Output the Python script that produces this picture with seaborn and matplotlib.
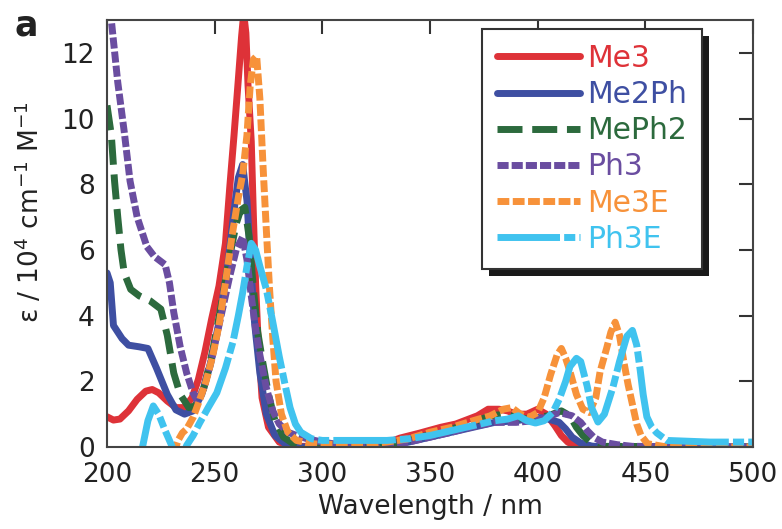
import matplotlib
matplotlib.use("Agg")
import matplotlib.pyplot as plt
import matplotlib.patches as mpatches
import seaborn as sns
import numpy as np

# ---------------- data ----------------
series_names = ["Me3", "Me2Ph", "MePh2", "Ph3", "Me3E", "Ph3E"]

me3_x = [200, 203, 206, 210, 214, 218, 221, 224, 228, 232, 236, 239.5, 242.4, 245.5, 248.6,
         252, 255, 257, 259, 261, 262.5, 263.5, 264.5, 265.5, 267, 268, 269, 270, 272, 275,
         280, 285, 290, 300, 320, 330, 336, 345, 355, 362, 368, 372, 377, 382, 386, 390,
         395, 400, 404, 408, 411, 414, 418, 430, 500]
me3_y = [0.92, 0.82, 0.85, 1.1, 1.45, 1.7, 1.75, 1.65, 1.4, 1.2, 1.2, 1.5, 2.05, 2.9, 3.9,
         4.9, 6.2, 7.9, 9.5, 11.2, 12.5, 13.2, 12.6, 11.0, 9.3, 7.0, 5.0, 3.5, 1.5, 0.6,
         0.15, 0.03, 0.02, 0.02, 0.03, 0.12, 0.27, 0.42, 0.6, 0.7, 0.85, 0.95, 1.15, 1.15, 1.1, 1.0,
         1.0, 1.15, 1.0, 0.65, 0.35, 0.15, 0.02, 0.0, 0.0]

me2ph_x = [200, 201.5, 203, 205, 207, 210, 215, 219, 223, 228, 232, 236, 240, 244, 248, 252,
           256, 259, 261, 263, 265, 266.5, 268.5, 271, 274, 278, 283, 290, 320, 330, 340, 350,
           360, 370, 380, 390, 395, 400, 405, 410, 413, 416, 420, 425, 430, 500]
me2ph_y = [5.3, 5.0, 3.7, 3.5, 3.3, 3.1, 3.05, 3.0, 2.4, 1.6, 1.13, 1.0, 1.1, 1.6, 2.5, 3.8,
           5.5, 7.2, 8.2, 8.6, 7.5, 5.8, 3.8, 2.25, 1.0, 0.35, 0.08, 0.0, 0.0, 0.05, 0.15, 0.3,
           0.45, 0.6, 0.75, 0.8, 0.85, 0.9, 0.85, 0.75, 0.55, 0.3, 0.12, 0.03, 0.0, 0.0]

meph2_x = [200, 202, 203.5, 205, 206.5, 208, 211, 215, 220, 225, 228, 231, 234, 238, 241, 245,
           249, 253, 257, 260, 262, 264, 266, 268, 270, 272, 275, 278, 282, 287, 295, 310,
           320, 330, 340, 350, 360, 370, 378, 385, 390, 395, 400, 405, 411, 415, 418, 421,
           425, 430, 500]
meph2_y = [10.4, 9.5, 8.1, 7.0, 6.0, 5.3, 4.8, 4.6, 4.45, 4.2, 3.4, 2.25, 1.6, 1.2, 1.25, 1.8,
           2.9, 4.3, 5.8, 6.8, 7.2, 7.3, 6.4, 4.8, 3.5, 2.7, 1.6, 0.8, 0.3, 0.08, 0.02, 0.0,
           0.02, 0.08, 0.2, 0.38, 0.55, 0.75, 0.95, 1.0, 0.9, 0.85, 0.9, 0.95, 1.1, 0.95, 0.6, 0.35,
           0.12, 0.02, 0.0]

ph3_x = [200, 202, 205, 208, 210.7, 214, 218.5, 222, 227, 229, 231, 234, 237, 240, 242, 245,
         249, 253, 257, 260, 263, 265, 267, 269, 271, 274, 277, 280, 284, 288, 293, 300,
         310, 320, 330, 340, 350, 360, 370, 380, 390, 398, 404, 410, 416, 420, 423, 426,
         430, 437, 444, 500]
ph3_y = [13.3, 13.0, 11.1, 9.6, 8.1, 7.0, 6.1, 5.8, 5.55, 5.0, 4.1, 3.05, 2.25, 1.64, 1.4, 1.8,
         2.8, 4.0, 5.2, 6.0, 6.4, 5.7, 4.6, 3.6, 2.8, 1.8, 1.1, 0.7, 0.45, 0.35, 0.25, 0.15,
         0.05, 0.02, 0.05, 0.15, 0.3, 0.45, 0.62, 0.75, 0.75, 0.8, 0.9, 1.05, 0.95, 0.75, 0.5, 0.3,
         0.15, 0.07, 0.02, 0.0]

me3e_x = [231, 233, 235, 237, 240, 243, 246, 249, 252, 255, 258, 261, 263, 265, 266.5, 268,
          269.5, 271, 272.5, 274, 275.5, 277, 278.5, 281, 284, 288, 295, 300, 320, 330, 340,
          350, 360, 370, 378, 384, 388, 392, 396, 400, 403, 406, 409, 411, 413, 415, 418,
          421, 424, 427, 429, 432, 434, 436, 438, 440, 442, 444, 446, 448, 451, 460, 500]
me3e_y = [-0.2, 0.2, 0.43, 0.55, 0.9, 1.43, 2.0, 2.75, 3.7, 5.0, 6.4, 7.6, 8.3, 9.5, 11.0, 11.8,
          11.9, 10.6, 8.5, 6.6, 4.8, 3.3, 2.0, 1.0, 0.45, 0.2, 0.1, 0.08, 0.08, 0.15, 0.25,
          0.45, 0.6, 0.8, 0.95, 1.15, 1.2, 1.0, 0.9, 1.05, 1.5, 2.2, 2.8, 3.0, 2.7, 2.3, 1.6,
          1.15, 1.05, 1.5, 2.3, 3.0, 3.5, 3.8, 3.4, 2.6, 1.9, 1.3, 0.7, 0.35, 0.1, 0.0, 0.0]

ph3e_x = [214, 216.5, 219, 221.5, 224, 227, 230, 232, 235, 237, 240, 243, 247, 251, 255, 258.5,
          261, 263, 265, 267, 269, 271, 274, 277, 280, 283, 285, 287.5, 290, 295, 300, 330,
          340, 350, 360, 370, 380, 386, 391, 395, 399, 403, 407, 410, 413, 415, 418, 420,
          423, 425, 428, 431, 435, 438, 441.4, 444, 446, 447.6, 449, 450.7, 453, 455.3, 460,
          480, 500]
ph3e_y = [-0.3, 0.0, 0.8, 1.25, 1.0, 0.5, 0.05, -0.3, -0.3, 0.05, 0.35, 0.73, 1.2, 1.65, 2.4, 3.2,
          4.0, 4.7, 5.5, 6.2, 6.0, 5.5, 4.8, 3.8, 2.75, 1.8, 1.2, 0.7, 0.45, 0.25, 0.2, 0.2,
          0.25, 0.35, 0.5, 0.65, 0.8, 0.85, 0.95, 0.8, 0.73, 0.8, 1.05, 1.45, 2.0, 2.45, 2.7, 2.6,
          1.85, 1.2, 0.76, 1.0, 1.83, 2.6, 3.37, 3.55, 3.1, 2.35, 1.6, 0.92, 0.6, 0.43, 0.2,
          0.15, 0.15]

x_ticks = [200, 250, 300, 350, 400, 450, 500]
y_ticks = [0, 2, 4, 6, 8, 10, 12]
x_label = "Wavelength / nm"
y_label = r"ε / 10$^{4}$ cm$^{-1}$ M$^{-1}$"
panel_label = "a"

# ---------------- styles ----------------
colors = {"Me3": "#DE3238", "Me2Ph": "#3E4FA2", "MePh2": "#2C6A3D",
          "Ph3": "#6A4DA0", "Me3E": "#F7923A", "Ph3E": "#40C3EF"}
styles = {"Me3": "-", "Me2Ph": "-", "MePh2": (0, (18, 7)),
          "Ph3": (0, (8, 2.2)), "Me3E": (0, (8.5, 2.5)),
          "Ph3E": (0, (45, 3, 8, 3))}

sns.set_style("white")
plt.rcParams["font.family"] = ["DejaVu Sans"]
plt.rcParams["lines.scale_dashes"] = False
plt.rcParams["mathtext.fontset"] = "dejavusans"

fig = plt.figure(figsize=(7.82, 5.29), dpi=100)
ax = fig.add_axes([107 / 782, 1 - 447 / 529, (753 - 107) / 782, (447 - 20) / 529])

data = {"Me3": (me3_x, me3_y), "Me2Ph": (me2ph_x, me2ph_y), "MePh2": (meph2_x, meph2_y),
        "Ph3": (ph3_x, ph3_y), "Me3E": (me3e_x, me3e_y), "Ph3E": (ph3e_x, ph3e_y)}

for name in series_names:
    xs, ys = data[name]
    sns.lineplot(x=xs, y=ys, ax=ax, color=colors[name], linewidth=5,
                 linestyle=styles[name], label=name, estimator=None, sort=False)

ax.set_xlim(200, 500)
ax.set_ylim(0, 13)
ax.set_xticks(x_ticks)
ax.set_yticks(y_ticks)

fs = 19
ax.tick_params(direction="in", top=True, right=True, length=10, width=1.5,
               color="#333333", labelsize=fs, labelcolor="#222222")
ax.tick_params(axis="x", pad=11)
ax.tick_params(axis="y", pad=9)
for sp in ax.spines.values():
    sp.set_color("#444444")
    sp.set_linewidth(1.5)

ax.set_xlabel(x_label, fontsize=fs, color="#222222", labelpad=4)
ax.set_ylabel(y_label, fontsize=fs, color="#222222")
ax.yaxis.set_label_coords(-0.096, 0.55)

fig.text(15 / 782, 1 - 35 / 529, panel_label, fontsize=25, fontweight="bold",
         ha="left", va="baseline", color="#222222")

leg = ax.legend(loc="upper right", bbox_to_anchor=(702 / 782, 1 - 29 / 529),
                bbox_transform=fig.transFigure, borderaxespad=0, frameon=True,
                fancybox=False, framealpha=1, fontsize=21.5, labelcolor="linecolor",
                handlelength=2.8, handletextpad=0.23, labelspacing=0.24,
                borderpad=0.5)
leg.get_frame().set_edgecolor("#333333")
leg.get_frame().set_linewidth(1.5)
leg.get_frame().set_facecolor("white")
leg.set_zorder(10)

fig.canvas.draw()
bb = leg.get_window_extent()
inv = fig.transFigure.inverted()
(x0, y0) = inv.transform((bb.x0 + 7, bb.y0 - 7))
(x1, y1) = inv.transform((bb.x1 + 7, bb.y1 - 7))
shadow = mpatches.Rectangle((x0, y0), x1 - x0, y1 - y0, transform=fig.transFigure,
                            facecolor="#1a1a1a", edgecolor="none", zorder=9, clip_on=False)
ax.add_artist(shadow)

fig.savefig("out.png", dpi=100)
